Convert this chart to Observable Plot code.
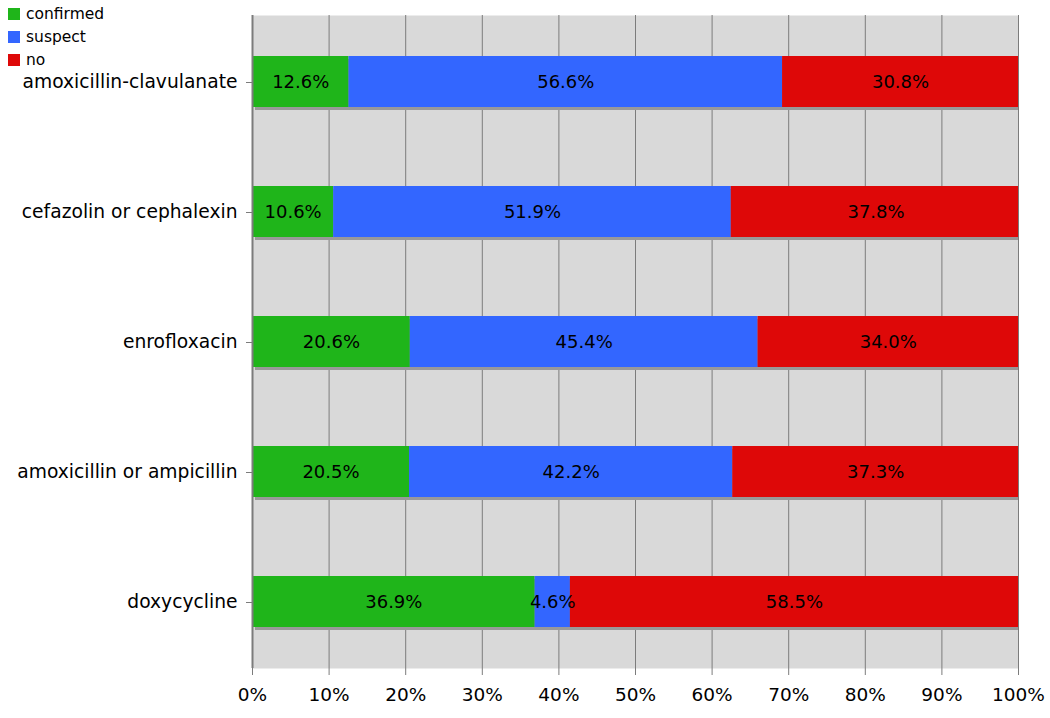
<!DOCTYPE html>
<html>
<head>
<meta charset="utf-8">
<script src="https://cdn.jsdelivr.net/npm/d3@7"></script>
<script src="https://cdn.jsdelivr.net/npm/@observablehq/plot@0.6"></script>
<style>
  html, body { margin: 0; padding: 0; background: #fff; }
  #wrap { position: relative; width: 1050px; height: 718px; font-family: "DejaVu Sans", Verdana, sans-serif; }
  #legend { position: absolute; left: 8px; top: 2px; font-size: 15.5px; color: #000; }
  .item { display: flex; align-items: center; height: 23px; }
  .sw { width: 12px; height: 12px; margin-right: 6px; }
</style>
</head>
<body>
<div id="wrap">
  <div id="chart"></div>
  <div id="legend"></div>
</div>
<script>
const drugs = ["amoxicillin-clavulanate", "cefazolin or cephalexin", "enrofloxacin", "amoxicillin or ampicillin", "doxycycline"];
const statuses = ["confirmed", "suspect", "no"];
const colors = ["#1fb51a", "#3366ff", "#de0808"];
const confirmed = [12.6, 10.6, 20.6, 20.5, 36.9];
const suspect = [56.6, 51.9, 45.4, 42.2, 4.6];
const no = [30.8, 37.8, 34.0, 37.3, 58.5];
const xTicks = [0, 10, 20, 30, 40, 50, 60, 70, 80, 90, 100];

const series = [confirmed, suspect, no];
const data = [];
drugs.forEach((d, i) => statuses.forEach((s, j) => data.push({drug: d, status: s, value: series[j][i]})));

const W = 1050, H = 718, mL = 252, mR = 32, mT = 15, mB = 50;
const bw = (H - mT - mB) / drugs.length;
const last = drugs[drugs.length - 1];
const gridColor = "#7c7c7c";

const chart = Plot.plot({
  width: W, height: H,
  marginLeft: mL, marginRight: mR, marginTop: mT, marginBottom: mB,
  style: {fontFamily: "DejaVu Sans, Verdana, sans-serif", fontSize: "18px", color: "#000", background: "#fff"},
  x: {domain: [0, 100], ticks: xTicks, tickFormat: d => d + "%"},
  y: {domain: drugs, padding: 0},
  color: {domain: statuses, range: colors},
  marks: [
    Plot.frame({fill: "#d9d9d9", stroke: null}),
    Plot.ruleX(xTicks, {stroke: gridColor, strokeOpacity: 1, strokeWidth: 1}),
    Plot.barX(drugs, {y: d => d, x1: 0, x2: 100, fill: "#999", dx: 3, dy: 3, insetTop: 39, insetBottom: 40, insetRight: 3}),
    Plot.barX(data, {x: "value", y: "drug", fill: "status", insetTop: 39, insetBottom: 40, clip: true, order: statuses}),
    Plot.text(data, Plot.stackX({x: "value", y: "drug", z: "status", order: statuses, text: d => d.value.toFixed(1) + "%", fill: "#000", fontSize: 18})),
    Plot.ruleX([0], {stroke: gridColor, strokeWidth: 2}),
    Plot.ruleY(drugs, {y: d => d, x1: 0, x2: 0, insetLeft: -6, stroke: gridColor}),
    Plot.ruleY([last], {y: d => d, x1: 0, x2: 100, dy: bw, insetLeft: -6, stroke: gridColor}),
    Plot.axisX({ticks: xTicks, tickFormat: d => d + "%", tickSize: 7, stroke: gridColor, tickPadding: 12, fontSize: 18.5, fill: "#000", label: null}),
    Plot.axisY({tickSize: 0, tickPadding: 15, fontSize: 18.7, fill: "#000", label: null})
  ]
});
document.getElementById("chart").appendChild(chart);

const legend = document.getElementById("legend");
statuses.forEach((s, j) => {
  const it = document.createElement("div");
  it.className = "item";
  it.innerHTML = `<div class="sw" style="background:${colors[j]}"></div><span>${s}</span>`;
  legend.appendChild(it);
});
</script>
</body>
</html>
